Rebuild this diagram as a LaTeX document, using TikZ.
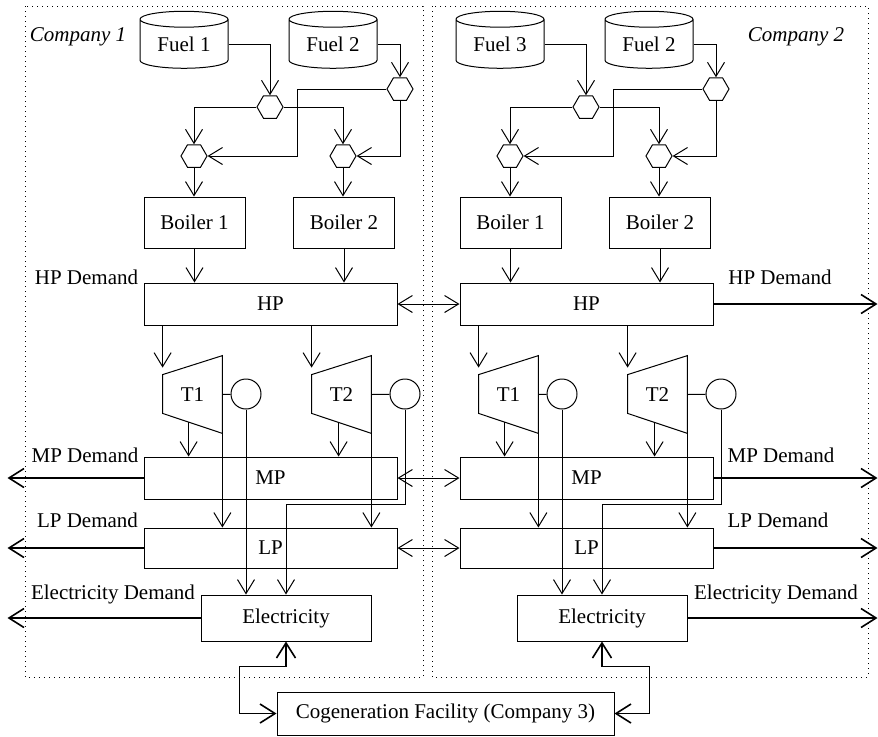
\documentclass[tikz,border=0pt]{standalone}
\usepackage{fontspec}
\setmainfont{Liberation Serif}
\usetikzlibrary{positioning, arrows.meta, shapes.geometric, calc}

\begin{document}
\begin{tikzpicture}[
    x=0.5pt, y=-0.5pt,
    font=\fontsize{10.5}{12}\selectfont,
    box/.style={rectangle, draw, inner sep=0pt, line width=0.5pt},
    boiler/.style={box, minimum width=50.5pt, minimum height=25.5pt},
    header/.style={box, minimum width=126.5pt, minimum height=21pt},
    elecbox/.style={box, minimum width=85pt, minimum height=23pt},
    fuel/.style={cylinder, shape border rotate=90, draw, aspect=0.3, minimum width=44pt, minimum height=28.5pt, inner sep=0pt, line width=0.5pt},
    mixer/.style={regular polygon, regular polygon sides=6, draw, minimum size=13pt, inner sep=0pt, line width=0.5pt},
    turbine/.style={rectangle, inner sep=0pt, minimum width=29.5pt, minimum height=38.5pt},
    gen/.style={circle, draw, minimum size=15pt, inner sep=0pt, line width=0.5pt},
    arrow/.style={-{Straight Barb[length=7pt,width=8.5pt]}, line width=0.5pt},
    biarrow/.style={{Straight Barb[length=7pt,width=8.5pt]}-{Straight Barb[length=7pt,width=8.5pt]}, line width=0.5pt},
    demand/.style={-{Straight Barb[length=7.5pt,width=9.5pt]}, line width=0.8pt},
    cogenline/.style={{Straight Barb[length=7.5pt,width=9.5pt]}-{Straight Barb[length=7.5pt,width=9.5pt]}, line width=0.8pt},
    company/.style={draw, dotted, line width=0.5pt},
    tag/.style={inner sep=0pt},
    title/.style={tag, font=\fontsize{10.5}{12}\selectfont\itshape}
]
\useasboundingbox (0,0) rectangle (878,736);

% company borders
\draw[company] (25,6) rectangle (423,677);
\draw[company] (432,6) rectangle (868,677);
\node[title] (comp1) at (78,37) {Company 1};
\node[title] (comp2) at (796,37) {Company 2};

% company 1
\node[fuel] (fuel1) at (184,44) {Fuel 1};
\node[fuel] (fuel2) at (333,44) {Fuel 2};
\node[mixer] (hx1) at (270,107) {};
\node[mixer] (hy1) at (400,89) {};
\node[mixer] (hb1) at (194,156) {};
\node[mixer] (hb2) at (343,156) {};
\node[boiler] (boiler1) at (194.5,222.5) {Boiler 1};
\node[boiler] (boiler2) at (344,222.5) {Boiler 2};
\node[header] (hp1) at (270.5,304) {HP};
\node[turbine] (t1) at (192.5,394.5) {T1};
\node[turbine] (t2) at (341.5,394.5) {T2};
\node[gen] (g1) at (246,394) {};
\node[gen] (g2) at (405,394) {};
\node[header] (mp1) at (270.5,478) {MP};
\node[header, minimum height=20pt] (lp1) at (270.5,548) {LP};
\node[elecbox] (elec1) at (286,618) {Electricity};

\node[tag] (hpd1) at (86.5,277) {HP Demand};
\node[tag] (mpd1) at (85,455) {MP Demand};
\node[tag] (lpd1) at (87.5,520) {LP Demand};
\node[tag] (eld1) at (113,594) {Electricity Demand};

% company 2
\node[fuel] (fuel3) at (500,44) {Fuel 3};
\node[fuel] (fuel4) at (649,44) {Fuel 2};
\node[mixer] (hx2) at (586,107) {};
\node[mixer] (hy2) at (716,89) {};
\node[mixer] (hb3) at (510,156) {};
\node[mixer] (hb4) at (659,156) {};
\node[boiler] (boiler3) at (510.5,222.5) {Boiler 1};
\node[boiler] (boiler4) at (660,222.5) {Boiler 2};
\node[header] (hp2) at (586.5,304) {HP};
\node[turbine] (t3) at (508.5,394.5) {T1};
\node[turbine] (t4) at (657.5,394.5) {T2};
\node[gen] (g3) at (562,394) {};
\node[gen] (g4) at (721,394) {};
\node[header] (mp2) at (586.5,478) {MP};
\node[header, minimum height=20pt] (lp2) at (586.5,548) {LP};
\node[elecbox] (elec2) at (602,618) {Electricity};

\node[tag] (hpd2) at (780,277) {HP Demand};
\node[tag] (mpd2) at (781,455) {MP Demand};
\node[tag] (lpd2) at (778,520) {LP Demand};
\node[tag] (eld2) at (776,594) {Electricity Demand};

\node[box, minimum width=168.5pt, minimum height=21.5pt] (cogen) at (445.5,713.5) {Cogeneration Facility (Company 3)};

% turbine outlines
\draw[line width=0.5pt] (t1.north east) -- (t1.south east) -- ($(t1.south west)+(0,-20)$) -- ($(t1.north west)+(0,19)$) -- cycle;
\draw[line width=0.5pt] (t2.north east) -- (t2.south east) -- ($(t2.south west)+(0,-20)$) -- ($(t2.north west)+(0,19)$) -- cycle;
\draw[line width=0.5pt] (t3.north east) -- (t3.south east) -- ($(t3.south west)+(0,-20)$) -- ($(t3.north west)+(0,19)$) -- cycle;
\draw[line width=0.5pt] (t4.north east) -- (t4.south east) -- ($(t4.south west)+(0,-20)$) -- ($(t4.north west)+(0,19)$) -- cycle;

% fuel lines
\draw[arrow] (fuel1.east) -| (hx1.north);
\draw[arrow] (fuel2.east) -| (hy1.north);
\draw[arrow] (hx1.west) -| (hb1.north);
\draw[arrow] (hx1.east) -| (hb2.north);
\draw[arrow] (hy1.west) -- ++(-89,0) |- (hb1.east);
\draw[arrow] (hy1.south) |- (hb2.east);
\draw[arrow] (hb1.south) -- (hb1.south |- boiler1.north);
\draw[arrow] (hb2.south) -- (hb2.south |- boiler2.north);

\draw[arrow] (fuel3.east) -| (hx2.north);
\draw[arrow] (fuel4.east) -| (hy2.north);
\draw[arrow] (hx2.west) -| (hb3.north);
\draw[arrow] (hx2.east) -| (hb4.north);
\draw[arrow] (hy2.west) -- ++(-89,0) |- (hb3.east);
\draw[arrow] (hy2.south) |- (hb4.east);
\draw[arrow] (hb3.south) -- (hb3.south |- boiler3.north);
\draw[arrow] (hb4.south) -- (hb4.south |- boiler4.north);

% steam
\draw[arrow] (boiler1.south) -- (boiler1.south |- hp1.north);
\draw[arrow] (boiler2.south) -- (boiler2.south |- hp1.north);
\draw[arrow] (hp1.south -| t1.west) -- ($(t1.north west)+(0,12)$);
\draw[arrow] (hp1.south -| t2.west) -- ($(t2.north west)+(0,12)$);
\draw[arrow] ($(t1.south west)+(26,-11)$) coordinate (o1) -- (o1 |- mp1.north);
\draw[arrow] ($(t2.south west)+(27,-11)$) coordinate (o2) -- (o2 |- mp1.north);
\draw[arrow] (t1.south east) -- (t1.south east |- lp1.north);
\draw[arrow] (t2.south east) -- (t2.south east |- lp1.north);
\draw[line width=0.5pt] (t1.east) -- (g1);
\draw[line width=0.5pt] (t2.east) -- (g2);
\draw[arrow] (g1.south) -- (g1.south |- elec1.north);
\draw[arrow] (g2.south) -- ++(0,95) -| (elec1.north);

\draw[arrow] (boiler3.south) -- (boiler3.south |- hp2.north);
\draw[arrow] (boiler4.south) -- (boiler4.south |- hp2.north);
\draw[arrow] (hp2.south -| t3.west) -- ($(t3.north west)+(0,12)$);
\draw[arrow] (hp2.south -| t4.west) -- ($(t4.north west)+(0,12)$);
\draw[arrow] ($(t3.south west)+(26,-11)$) coordinate (o3) -- (o3 |- mp2.north);
\draw[arrow] ($(t4.south west)+(27,-11)$) coordinate (o4) -- (o4 |- mp2.north);
\draw[arrow] (t3.south east) -- (t3.south east |- lp2.north);
\draw[arrow] (t4.south east) -- (t4.south east |- lp2.north);
\draw[line width=0.5pt] (t3.east) -- (g3);
\draw[line width=0.5pt] (t4.east) -- (g4);
\draw[arrow] (g3.south) -- (g3.south |- elec2.north);
\draw[arrow] (g4.south) -- ++(0,95) -| (elec2.north);

% exchange between companies
\draw[biarrow] (hp1.east) -- (hp2.west);
\draw[biarrow] (mp1.east) -- (mp2.west);
\draw[biarrow] (lp1.east) -- (lp2.west);

% demands
\draw[demand] (mp1.west) -- ++(-136,0);
\draw[demand] (lp1.west) -- ++(-136,0);
\draw[demand] (elec1.west) -- ++(-193,0);
\draw[demand] (hp2.east) -- ++(164,0);
\draw[demand] (mp2.east) -- ++(164,0);
\draw[demand] (lp2.east) -- ++(164,0);
\draw[demand] (elec2.east) -- ++(190,0);

% cogeneration
\draw[cogenline] (elec1.south) -- ++(0,25) -| ($(cogen.west)+(-37,0)$) -- (cogen.west);
\draw[cogenline] (elec2.south) -- ++(0,25) -| ($(cogen.east)+(35,0)$) -- (cogen.east);

\end{tikzpicture}
\end{document}
